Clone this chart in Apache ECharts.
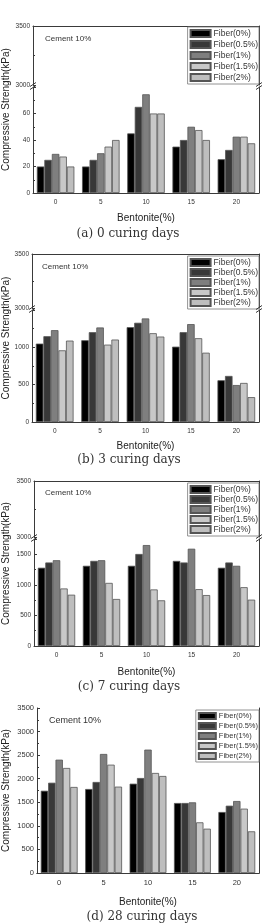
<!DOCTYPE html>
<html>
<head>
<meta charset="utf-8">
<script src="https://cdn.jsdelivr.net/npm/echarts@6/dist/echarts.min.js"></script>
<style>
	html, body { margin: 0; padding: 0; background: #fff; }
	#chart { width: 266px; height: 924px; }
</style>
</head>
<body>
<div id="chart"></div>
<script>
// bentonite content on the x axis
var categories = ['0', '5', '10', '15', '20'];
var fiberNames = ['Fiber(0%)', 'Fiber(0.5%)', 'Fiber(1%)', 'Fiber(1.5%)', 'Fiber(2%)'];
var fiberColors = ['#000000', '#383838', '#7f7f7f', '#c8c8c8', '#bebebe'];

// compressive strength (kPa), one row per fiber content
var day0 = [
	[20, 20, 45, 35, 25.5],
	[25, 25, 65, 40, 32.5],
	[29.5, 30, 74.5, 50, 42.5],
	[27.5, 35, 60, 47.5, 42.5],
	[20, 40, 60, 40, 37.5]
];
var day3 = [
	[1050, 1095, 1270, 1009, 559],
	[1149, 1203, 1329, 1203, 617],
	[1230, 1266, 1387, 1311, 495],
	[960, 1036, 1189, 1122, 523],
	[1090, 1104, 1144, 928, 333]
];
var day7 = [
	[1280, 1312, 1312, 1392, 1280],
	[1366, 1392, 1505, 1366, 1366],
	[1403, 1403, 1651, 1591, 1312],
	[941, 1032, 925, 930, 962],
	[839, 769, 747, 833, 758]
];
var day28 = [
	[1745, 1782, 1895, 1485, 1294],
	[1915, 1931, 2015, 1485, 1428],
	[2404, 2525, 2617, 1499, 1527],
	[2228, 2298, 2122, 1075, 1365],
	[1825, 1832, 2058, 940, 884]
];

var W = 266;
var RIGHT = 7;
var lineColor = '#3a3a3a';
var sans = 'Liberation Sans';

var panels = [
	{ data: day0, caption: '(a) 0 curing days', left: 33, top: 26, brk: 86, bottom: 193, lowMax: 80, lowInt: 20,
		font: 6.5, legTop: 27, legW: 20, legH: 7, legGap: 2, legFont: 8.5, cement: [45, 39], capX: 128, capY: 234, nameGap: 20 },
	{ data: day3, caption: '(b) 3 curing days', left: 32, top: 254, brk: 309, bottom: 422, lowMax: 1500, lowInt: 500,
		font: 6.5, legTop: 256, legW: 20, legH: 7, legGap: 1, legFont: 8.5, cement: [42, 267], capX: 129, capY: 460, nameGap: 19 },
	{ data: day7, caption: '(c) 7 curing days', left: 34, top: 481, brk: 538, bottom: 646, lowMax: 1750, lowInt: 500,
		font: 6.5, legTop: 483, legW: 20, legH: 7, legGap: 1, legFont: 8.5, cement: [45, 493], capX: 129, capY: 687, nameGap: 21 },
	{ data: day28, caption: '(d) 28 curing days', left: 37, top: 708, brk: null, bottom: 873, lowMax: 3500, lowInt: 500,
		font: 7.5, legTop: 710, legW: 17, legH: 6, legGap: 2, legFont: 7.5, cement: [49, 721], capX: 142, capY: 917, nameGap: 24 }
];

var grid = [], xAxis = [], yAxis = [], series = [], legend = [], graphic = [];

function axisLine() {
	return { show: true, lineStyle: { color: lineColor, width: 1 } };
}

function leftY(gi, min, max, interval, p, hideMax) {
	yAxis.push({
		gridIndex: gi, type: 'value', min: min, max: max, interval: interval,
		axisLine: axisLine(),
		axisTick: { show: true, inside: true, length: 3, lineStyle: { color: lineColor } },
		minorTick: { show: true, splitNumber: 2, length: 2, lineStyle: { color: lineColor } },
		axisLabel: {
			fontSize: p.font, fontFamily: sans, color: '#333', margin: 3, showMaxLabel: !hideMax,
			formatter: function(v) { return String(v); }
		},
		splitLine: { show: false }
	});
	return yAxis.length - 1;
}

function rightY(gi, min, max) {
	yAxis.push({
		gridIndex: gi, type: 'value', position: 'right', min: min, max: max,
		axisLine: axisLine(), axisTick: { show: false }, axisLabel: { show: false }, splitLine: { show: false }
	});
}

function plainX(gi, pos) {
	xAxis.push({
		gridIndex: gi, type: 'category', data: categories, position: pos,
		axisLine: axisLine(), axisTick: { show: false }, axisLabel: { show: false }, splitLine: { show: false }
	});
}

function mainX(gi, p) {
	xAxis.push({
		gridIndex: gi, type: 'category', data: categories, position: 'bottom',
		axisLine: axisLine(), axisTick: { show: false },
		axisLabel: { fontSize: p.font, fontFamily: sans, color: '#333', margin: 6 },
		name: 'Bentonite(%)', nameLocation: 'middle', nameGap: p.nameGap,
		nameTextStyle: { fontSize: 10, fontFamily: sans, color: '#222' }
	});
	return xAxis.length - 1;
}

function breakMark(x, y) {
	[-1.5, 1.5].forEach(function(d) {
		graphic.push({
			type: 'line', z: 100,
			shape: { x1: x - 3, y1: y + d + 2, x2: x + 3, y2: y + d - 2 },
			style: { stroke: lineColor, lineWidth: 1 }
		});
	});
}

panels.forEach(function(p) {
	var xi, yi;
	if (p.brk) {
		// upper part of the broken axis: 3000 - 3500
		grid.push({ left: p.left, right: RIGHT, top: p.top, height: p.brk - p.top - 1, outerBoundsMode: 'none' });
		var gu = grid.length - 1;
		plainX(gu, 'top');
		leftY(gu, 3000, 3500, 500, p, false);
		rightY(gu, 3000, 3500);
		// lower part
		grid.push({ left: p.left, right: RIGHT, top: p.brk + 1, height: p.bottom - p.brk - 1, outerBoundsMode: 'none' });
		var gl = grid.length - 1;
		xi = mainX(gl, p);
		yi = leftY(gl, 0, p.lowMax, p.lowInt, p, true);
		rightY(gl, 0, p.lowMax);
		breakMark(p.left, p.brk);
		breakMark(W - RIGHT, p.brk);
	} else {
		grid.push({ left: p.left, right: RIGHT, top: p.top, height: p.bottom - p.top, outerBoundsMode: 'none' });
		var g = grid.length - 1;
		xi = mainX(g, p);
		plainX(g, 'top');
		yi = leftY(g, 0, p.lowMax, p.lowInt, p, false);
		rightY(g, 0, p.lowMax);
	}

	p.data.forEach(function(vals, k) {
		series.push({
			name: fiberNames[k], type: 'bar', xAxisIndex: xi, yAxisIndex: yi,
			barGap: 0, barCategoryGap: '17%',
			itemStyle: { color: fiberColors[k], borderColor: '#555', borderWidth: 0.8 },
			data: vals
		});
	});

	legend.push({
		data: fiberNames, orient: 'vertical', right: RIGHT, top: p.legTop,
		itemWidth: p.legW, itemHeight: p.legH, itemGap: p.legGap, icon: 'rect',
		padding: [2, 1, 2, 2], borderColor: '#777', borderWidth: 0.8, backgroundColor: '#fff',
		textStyle: { fontSize: p.legFont, fontFamily: sans, color: '#333', padding: [0, 0, 0, -2] }
	});

	graphic.push({
		type: 'text', x: p.cement[0], y: p.cement[1],
		style: { text: 'Cement 10%', fontSize: p.font + 1.5, fontFamily: sans, fill: '#333', align: 'left', verticalAlign: 'middle' }
	});
	graphic.push({
		type: 'text', x: 6, y: (p.top + p.bottom) / 2, rotation: Math.PI / 2,
		style: { text: 'Compressive Strength(kPa)', fontSize: 10, fontFamily: sans, fill: '#222', align: 'center', verticalAlign: 'middle' }
	});
	graphic.push({
		type: 'text', x: p.capX, y: p.capY,
		style: { text: p.caption, fontSize: 12, fontFamily: 'DejaVu Serif', fill: '#333', align: 'center', verticalAlign: 'middle' }
	});
});

var chart = echarts.init(document.getElementById('chart'), null, { renderer: 'canvas' });
chart.setOption({
	animation: false,
	backgroundColor: '#fff',
	grid: grid,
	xAxis: xAxis,
	yAxis: yAxis,
	legend: legend,
	series: series,
	graphic: graphic
});
</script>
</body>
</html>
